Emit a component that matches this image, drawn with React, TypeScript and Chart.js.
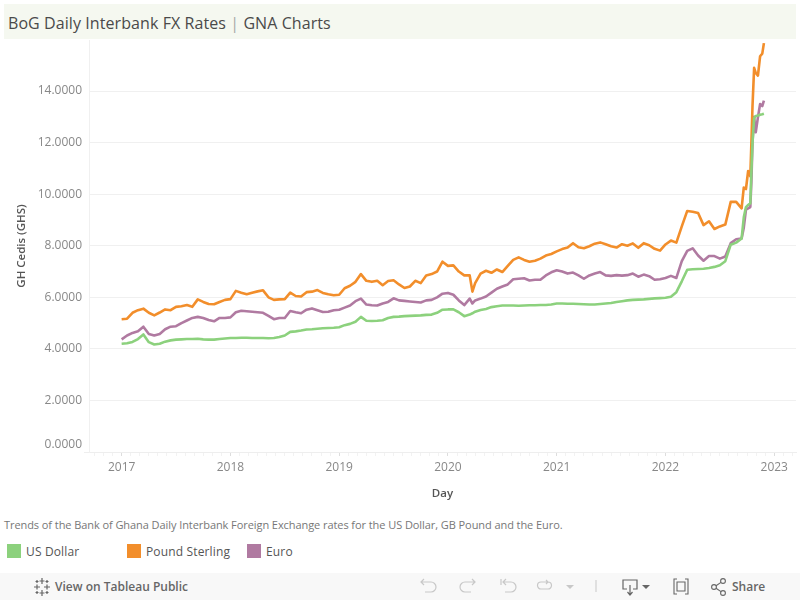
import React, { useEffect, useRef } from "react";
import { Chart, registerables } from "chart.js";

Chart.register(...registerables);

const dates = [
  2017.0, 2017.05, 2017.1, 2017.15, 2017.2, 2017.25, 2017.3, 2017.35, 2017.4, 2017.45,
  2017.5, 2017.55, 2017.6, 2017.65, 2017.7, 2017.75, 2017.8, 2017.85, 2017.9, 2017.95,
  2018.0, 2018.05, 2018.1, 2018.15, 2018.2, 2018.25, 2018.3, 2018.35, 2018.4, 2018.45,
  2018.5, 2018.55, 2018.6, 2018.65, 2018.7, 2018.75, 2018.8, 2018.85, 2018.9, 2018.95,
  2019.0, 2019.05, 2019.1, 2019.15, 2019.2, 2019.25, 2019.3, 2019.35, 2019.4, 2019.45,
  2019.5, 2019.55, 2019.6, 2019.65, 2019.7, 2019.75, 2019.8, 2019.85, 2019.9, 2019.95,
  2020.0, 2020.05, 2020.1, 2020.15, 2020.2, 2020.225, 2020.25, 2020.3, 2020.35, 2020.4, 2020.45,
  2020.5, 2020.55, 2020.6, 2020.65, 2020.7, 2020.75, 2020.8, 2020.85, 2020.9, 2020.95,
  2021.0, 2021.05, 2021.1, 2021.15, 2021.2, 2021.25, 2021.3, 2021.35, 2021.4, 2021.45,
  2021.5, 2021.55, 2021.6, 2021.65, 2021.7, 2021.75, 2021.8, 2021.85, 2021.9, 2021.95,
  2022.0, 2022.05, 2022.1, 2022.15, 2022.2, 2022.25, 2022.3, 2022.35, 2022.4, 2022.45,
  2022.5, 2022.55, 2022.6, 2022.65, 2022.7, 2022.72, 2022.74, 2022.76, 2022.78, 2022.79,
  2022.8, 2022.815, 2022.83, 2022.85, 2022.87, 2022.89, 2022.905,
];

const usDollar = [
  4.2, 4.22, 4.27, 4.38, 4.56, 4.26, 4.17, 4.2, 4.28, 4.33,
  4.36, 4.37, 4.38, 4.38, 4.39, 4.37, 4.36, 4.36, 4.38, 4.4,
  4.42, 4.42, 4.43, 4.43, 4.42, 4.42, 4.42, 4.41, 4.42, 4.46,
  4.52, 4.66, 4.68, 4.71, 4.75, 4.76, 4.78, 4.8, 4.81, 4.82,
  4.84, 4.92, 4.97, 5.05, 5.24, 5.09, 5.08, 5.09, 5.11, 5.2,
  5.24, 5.25, 5.27, 5.28, 5.29, 5.3, 5.32, 5.33, 5.4, 5.52,
  5.53, 5.53, 5.42, 5.27, 5.33, 5.38, 5.44, 5.51, 5.55, 5.62, 5.65,
  5.68, 5.68, 5.68, 5.67, 5.68, 5.69, 5.69, 5.7, 5.7, 5.72,
  5.76, 5.76, 5.75, 5.75, 5.74, 5.73, 5.72, 5.72, 5.74, 5.76,
  5.78, 5.82, 5.85, 5.88, 5.9, 5.91, 5.92, 5.94, 5.96, 5.97,
  5.98, 6.02, 6.2, 6.62, 7.07, 7.09, 7.1, 7.11, 7.14, 7.18,
  7.24, 7.4, 8.04, 8.12, 8.28, 9.1, 9.5, 9.58, 9.65, 10.9,
  12.0, 12.95, 13.03, 13.05, 13.08, 13.1, 13.12,
];

const poundSterling = [
  5.15, 5.17, 5.4, 5.5, 5.56, 5.4, 5.3, 5.41, 5.53, 5.5,
  5.63, 5.65, 5.7, 5.63, 5.92, 5.82, 5.74, 5.73, 5.82, 5.9,
  5.93, 6.25, 6.18, 6.12, 6.18, 6.23, 6.27, 6.0, 5.9, 5.92,
  5.93, 6.18, 6.05, 6.03, 6.2, 6.22, 6.28, 6.17, 6.12, 6.08,
  6.1, 6.35, 6.45, 6.6, 6.9, 6.64, 6.6, 6.64, 6.47, 6.63,
  6.66, 6.5, 6.36, 6.42, 6.64, 6.55, 6.85, 6.9, 7.0, 7.38,
  7.22, 7.24, 7.0, 6.85, 6.85, 6.22, 6.55, 6.92, 7.03, 6.95, 7.08,
  6.98, 7.22, 7.45, 7.55, 7.45, 7.38, 7.42, 7.5, 7.62, 7.68,
  7.78, 7.87, 7.93, 8.1, 7.94, 7.9, 7.98, 8.08, 8.13, 8.06,
  7.98, 7.93, 8.06, 8.0, 8.09, 7.92, 8.1, 8.02, 7.88, 7.81,
  8.05, 8.2, 8.12, 8.75, 9.35, 9.32, 9.27, 8.8, 8.95, 8.65,
  8.75, 8.82, 9.7, 9.7, 9.45, 10.26, 10.2, 10.9, 10.7, 12.0,
  13.4, 14.9, 14.7, 14.6, 15.35, 15.45, 15.86,
];

const euro = [
  4.37, 4.52, 4.62, 4.68, 4.86, 4.58, 4.52, 4.58, 4.76, 4.86,
  4.88, 5.0, 5.1, 5.2, 5.24, 5.2, 5.12, 5.07, 5.2, 5.2,
  5.22, 5.42, 5.48, 5.46, 5.44, 5.42, 5.4, 5.28, 5.15, 5.2,
  5.2, 5.47, 5.42, 5.38, 5.52, 5.57, 5.5, 5.43, 5.44, 5.5,
  5.52, 5.6, 5.68, 5.85, 5.95, 5.72, 5.69, 5.68, 5.76, 5.82,
  5.96, 5.88, 5.86, 5.84, 5.82, 5.8, 5.88, 5.9, 6.0, 6.14,
  6.17, 6.1, 5.88, 5.7, 5.95, 5.76, 5.88, 5.95, 6.03, 6.18, 6.33,
  6.42, 6.5, 6.7, 6.72, 6.74, 6.65, 6.68, 6.68, 6.85, 6.97,
  7.05, 7.0, 6.92, 6.96, 6.85, 6.72, 6.85, 6.92, 6.98, 6.85,
  6.83, 6.86, 6.84, 6.86, 6.92, 6.8, 6.88, 6.82, 6.68, 6.7,
  6.75, 6.83, 6.75, 7.4, 7.8, 7.9, 7.62, 7.42, 7.6, 7.6,
  7.5, 7.58, 8.1, 8.25, 8.28, 8.7, 9.4, 9.45, 9.5, 10.5,
  12.0, 13.0, 12.4, 12.98, 13.5, 13.42, 13.63,
];

const yTicks = [0, 2, 4, 6, 8, 10, 12, 14];
const yearTicks = [2017, 2018, 2019, 2020, 2021, 2022, 2023];

const GREEN = "#8cd17d";
const ORANGE = "#f28e2b";
const PURPLE = "#b07aa1";
const FONT = '"Open Sans", sans-serif';

const legendItems = [
  { label: "US Dollar", color: GREEN, left: 7 },
  { label: "Pound Sterling", color: ORANGE, left: 127 },
  { label: "Euro", color: PURPLE, left: 247 },
];

const pts = (vals: number[]) => vals.map((y, i) => ({ x: dates[i], y }));

function Icon({ left, width, children }: { left: number; width: number; children: React.ReactNode }) {
  return (
    <svg
      width={width}
      height={20}
      viewBox={`0 0 ${width} 20`}
      style={{ position: "absolute", left, top: 577, overflow: "visible" }}
      fill="none"
    >
      {children}
    </svg>
  );
}

export default function App() {
  const ref = useRef<HTMLCanvasElement>(null);

  useEffect(() => {
    const months: number[] = [];
    for (let m = 2016.75 * 12; m <= 2023.17 * 12; m += 1) months.push(m / 12);
    const isYear = (v: number) => Math.abs(v - Math.round(v)) < 1e-6;

    const chart = new Chart(ref.current!, {
      type: "line",
      data: {
        datasets: [
          { label: "US Dollar", data: pts(usDollar), borderColor: GREEN },
          { label: "Pound Sterling", data: pts(poundSterling), borderColor: ORANGE },
          { label: "Euro", data: pts(euro), borderColor: PURPLE },
        ].map((d) => ({ ...d, borderWidth: 2.6, pointRadius: 0, tension: 0, borderJoinStyle: "round" as const })),
      },
      options: {
        animation: false,
        responsive: false,
        layout: { padding: { top: 40, right: 4, left: 15, bottom: 0 } },
        plugins: { legend: { display: false }, title: { display: false }, tooltip: { enabled: false } },
        scales: {
          x: {
            type: "linear",
            min: 2016.7,
            max: 2023.2,
            afterBuildTicks: (s: any) => {
              s.ticks = months.map((value) => ({ value }));
            },
            afterFit: (s: any) => {
              s.height = 49;
            },
            border: { color: "#eeeeee" },
            grid: {
              drawOnChartArea: false,
              tickLength: 4,
              tickColor: (c: any) => (isYear(c.tick.value) ? "#dddddd" : "#f2f2f2"),
            },
            ticks: {
              autoSkip: false,
              maxRotation: 0,
              padding: 4,
              color: "#888888",
              font: { family: FONT, size: 12 },
              callback: (v: any) => (isYear(Number(v)) && yearTicks.includes(Math.round(Number(v))) ? String(Math.round(Number(v))) : ""),
            },
            title: {
              display: true,
              text: "Day",
              color: "#555555",
              padding: { top: 6, bottom: 0 },
              font: { family: FONT, size: 11.5, weight: 600 },
            },
          },
          y: {
            min: 0,
            max: 15.98,
            afterBuildTicks: (s: any) => {
              s.ticks = yTicks.map((value) => ({ value }));
            },
            afterFit: (s: any) => {
              s.width = 74;
            },
            border: { color: "#f0f0f0" },
            grid: {
              color: "#f0f0f0",
              tickLength: 5,
              tickColor: (c: any) => (c.tick.value === 0 ? "#eeeeee" : "transparent"),
            },
            ticks: {
              padding: 2,
              color: "#888888",
              font: { family: FONT, size: 12 },
              callback: (v: any) => (Number(v) === 0 ? ["0.0000", ""] : Number(v).toFixed(4)),
            },
            title: {
              display: true,
              text: "GH Cedis (GHS)",
              color: "#555555",
              padding: { top: 0, bottom: 0 },
              font: { family: FONT, size: 11.5, weight: 600 },
            },
          },
        },
      },
    });
    return () => chart.destroy();
  }, []);

  const iconStroke = "#c8c8c8";
  const darkStroke = "#666666";

  return (
    <div style={{ position: "fixed", left: 0, top: 0, width: 800, height: 600, background: "#fff", fontFamily: FONT, overflow: "hidden" }}>
      <div style={{ position: "absolute", left: 4, top: 4, width: 792, height: 35, background: "#f5f8f0" }} />
      <div style={{ position: "absolute", left: 8, top: 12, fontSize: 16, lineHeight: "22px", color: "#4a4a4a", whiteSpace: "nowrap", letterSpacing: 0.08 }}>
        BoG Daily Interbank FX Rates <span style={{ color: "#a8a8a8" }}>|</span> GNA Charts
      </div>
      <canvas ref={ref} width={800} height={501} style={{ position: "absolute", left: 0, top: 0 }} />
      <div style={{ position: "absolute", left: 4, top: 517, fontSize: 11, lineHeight: "16px", color: "#777777", whiteSpace: "nowrap", letterSpacing: -0.07 }}>
        Trends of the Bank of Ghana Daily Interbank Foreign Exchange rates for the US Dollar, GB Pound and the Euro.
      </div>
      {legendItems.map((it) => (
        <React.Fragment key={it.label}>
          <div style={{ position: "absolute", left: it.left, top: 544, width: 14, height: 14, background: it.color }} />
          <div style={{ position: "absolute", left: it.left + 19, top: 543, fontSize: 12, lineHeight: "18px", color: "#555555", whiteSpace: "nowrap", letterSpacing: 0.15 }}>
            {it.label}
          </div>
        </React.Fragment>
      ))}
      <div style={{ position: "absolute", left: 0, top: 573, width: 800, height: 27, background: "#f8f8f8" }} />
      <Icon left={33} width={18}>
        <g stroke={darkStroke} strokeWidth={1.2}>
          <path d="M9 1v6M6.5 4h5M9 13v6M6.5 16h5M1 10h6M4 7.5v5M11 10h6M14 7.5v5M4 3v3M2.5 4.5h3M14 3v3M12.5 4.5h3M4 14v3M2.5 15.5h3M14 14v3M12.5 15.5h3" />
        </g>
      </Icon>
      <div style={{ position: "absolute", left: 55, top: 578, fontSize: 12, lineHeight: "18px", fontWeight: 600, color: "#666666", whiteSpace: "nowrap" }}>
        View on Tableau Public
      </div>
      <Icon left={420} width={16}>
        <path d="M1 5h10a4.5 4.5 0 0 1 0 10H5M4 2L1 5l3 3" stroke={iconStroke} strokeWidth={1.2} />
      </Icon>
      <Icon left={460} width={16}>
        <path d="M15 5H5a4.5 4.5 0 0 0 0 10h6M12 2l3 3-3 3" stroke={iconStroke} strokeWidth={1.2} />
      </Icon>
      <Icon left={500} width={16}>
        <path d="M1 2v6M3 5h8a4.5 4.5 0 0 1 0 10H5M6 2L3 5l3 3" stroke={iconStroke} strokeWidth={1.2} />
      </Icon>
      <Icon left={536} width={16}>
        <path d="M12 5H5a3.5 3.5 0 0 0 0 7h7a3.5 3.5 0 0 0 0-7M10 3l2 2-2 2" stroke={iconStroke} strokeWidth={1.2} />
      </Icon>
      <Icon left={566} width={8}>
        <path d="M0 8h8l-4 4z" fill={iconStroke} />
      </Icon>
      <Icon left={595} width={2}>
        <path d="M1 3v12" stroke={iconStroke} strokeWidth={1} />
      </Icon>
      <Icon left={622} width={16}>
        <path d="M5 12H1V3h14v9h-4M8 8v9M5.5 15L8 18l2.500-3" stroke={darkStroke} strokeWidth={1.2} />
      </Icon>
      <Icon left={642} width={8}>
        <path d="M0 8h8l-4 4z" fill={darkStroke} />
      </Icon>
      <Icon left={673} width={16}>
        <path d="M4 2H1v15h3M12 2h3v15h-3M4 5h8v9H4z" stroke={darkStroke} strokeWidth={1.1} />
      </Icon>
      <Icon left={711} width={16}>
        <g stroke={darkStroke} strokeWidth={1.1}>
          <circle cx={3} cy={10} r={2.4} />
          <circle cx={12} cy={4} r={2.4} />
          <circle cx={12} cy={16} r={2.4} />
          <path d="M5 8.700l5-3.300M5 11.300l5 3.300" />
        </g>
      </Icon>
      <div style={{ position: "absolute", left: 732, top: 578, fontSize: 12, lineHeight: "18px", fontWeight: 600, color: "#666666", whiteSpace: "nowrap" }}>
        Share
      </div>
    </div>
  );
}
